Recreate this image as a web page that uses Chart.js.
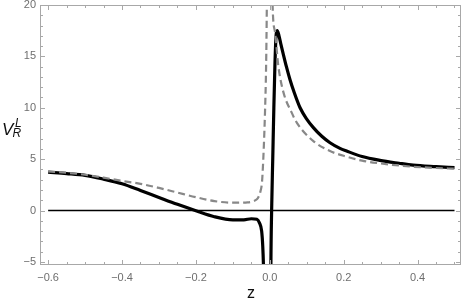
<!DOCTYPE html>
<html>
<head>
<meta charset="utf-8">
<script src="https://cdn.jsdelivr.net/npm/chart.js@4/dist/chart.umd.min.js"></script>
<style>
  html, body { margin: 0; padding: 0; background: #fff; }
  #wrap { width: 463px; height: 308px; }
</style>
</head>
<body>
<div id="wrap"><canvas id="myChart" width="463" height="308"></canvas></div>
<script>
// solid curve (black)
const solidZ = [-0.6, -0.55, -0.5, -0.45, -0.4, -0.35, -0.3, -0.25, -0.2, -0.15, -0.1, -0.07, -0.05,
  -0.035, -0.028, -0.022, -0.019, -0.017, -0.015, -0.012,
  0.0, 0.003, 0.005, 0.008, 0.011, 0.014, 0.017, 0.02, 0.025, 0.03, 0.036, 0.045, 0.055, 0.065, 0.082,
  0.1, 0.118, 0.14, 0.163, 0.19, 0.208, 0.25, 0.298, 0.35, 0.388, 0.45, 0.5];
const solidV = [3.74, 3.6, 3.42, 3.05, 2.6, 1.95, 1.27, 0.6, -0.02, -0.6, -0.9, -0.9, -0.8,
  -0.85, -1.2, -2.0, -3.5, -5.5, -9, -20,
  -30, -5.5, 0, 5, 10, 14.3, 17, 17.5, 17.0, 16.2, 15.3, 14.0, 12.7, 11.6, 10.0,
  8.9, 8.07, 7.25, 6.6, 6.05, 5.79, 5.25, 4.88, 4.6, 4.42, 4.27, 4.17];

// dashed curve (gray)
const dashedZ = [-0.6, -0.55, -0.5, -0.45, -0.4, -0.35, -0.3, -0.25, -0.2, -0.15, -0.1, -0.06, -0.045,
  -0.035, -0.031, -0.025, -0.021, -0.017, -0.013, -0.01, -0.008, -0.006, -0.004,
  0.004, 0.006, 0.0076, 0.014, 0.023, 0.037, 0.059, 0.073, 0.118, 0.163, 0.208, 0.25, 0.298,
  0.35, 0.388, 0.45, 0.5];
const dashedV = [3.8, 3.68, 3.48, 3.2, 2.88, 2.6, 2.2, 1.75, 1.3, 0.92, 0.76, 0.8, 0.9,
  1.1, 1.3, 1.9, 2.8, 5.5, 9.5, 14, 20, 30, 50,
  40, 25, 20, 17.4, 14.1, 11.5, 9.55, 8.55, 6.76, 5.79, 5.24, 4.85, 4.59,
  4.38, 4.26, 4.14, 4.07];

const zeroZ = [-0.6, 0.5];
const zeroV = [0, 0];

const xTicks = [-0.6, -0.4, -0.2, 0.0, 0.2, 0.4];
const yTicks = [-5, 0, 5, 10, 15, 20];

const toPoints = (xs, ys) => xs.map((x, i) => ({ x: x, y: ys[i] }));

const frameColor = '#a8a8a8';
const labelColor = '#6e6e6e';
const fontName = '"Liberation Sans", Arial, sans-serif';

// mathematica-ish frame with inward ticks, labels and axis titles
const framePlugin = {
  id: 'frame',
  afterDraw(chart) {
    const ctx = chart.ctx;
    const a = chart.chartArea;
    const xs = chart.scales.x;
    const ys = chart.scales.y;
    ctx.save();
    ctx.strokeStyle = frameColor;
    ctx.lineWidth = 1;
    ctx.strokeRect(a.left + 0.5, a.top + 0.5, a.right - a.left - 1, a.bottom - a.top - 1);

    // x ticks, minor every 0.05
    for (let k = -12; k <= 10; k++) {
      const v = k * 0.05;
      const px = Math.round(xs.getPixelForValue(v)) + 0.5;
      const major = k % 4 === 0;
      const len = major ? 5 : 3;
      ctx.beginPath();
      ctx.moveTo(px, a.bottom);
      ctx.lineTo(px, a.bottom - len);
      ctx.moveTo(px, a.top);
      ctx.lineTo(px, a.top + len);
      ctx.stroke();
    }
    // y ticks, minor every 1
    for (let v = -5; v <= 20; v++) {
      const py = Math.round(ys.getPixelForValue(v)) + 0.5;
      const major = v % 5 === 0;
      const len = major ? 5 : 3;
      ctx.beginPath();
      ctx.moveTo(a.left, py);
      ctx.lineTo(a.left + len, py);
      ctx.moveTo(a.right, py);
      ctx.lineTo(a.right - len, py);
      ctx.stroke();
    }

    ctx.fillStyle = labelColor;
    ctx.font = '11px ' + fontName;
    ctx.textAlign = 'center';
    ctx.textBaseline = 'alphabetic';
    xTicks.forEach(v => {
      const txt = (v < 0 ? '\u2212' : '') + Math.abs(v).toFixed(1);
      ctx.fillText(txt, xs.getPixelForValue(v), a.bottom + 16);
    });
    ctx.textAlign = 'right';
    ctx.textBaseline = 'middle';
    yTicks.forEach(v => {
      const txt = (v < 0 ? '\u2212' : '') + Math.abs(v);
      ctx.fillText(txt, a.left - 4, ys.getPixelForValue(v));
    });

    // axis titles
    ctx.fillStyle = '#111';
    ctx.textAlign = 'center';
    ctx.textBaseline = 'alphabetic';
    ctx.font = '16px ' + fontName;
    ctx.fillText('z', 251, 298);
    ctx.textAlign = 'left';
    ctx.font = 'italic 17px ' + fontName;
    ctx.fillText('V', 2, 135);
    ctx.font = 'italic 12px ' + fontName;
    ctx.fillText('L', 15, 127);
    ctx.fillText('R', 12.5, 137);
    ctx.restore();
  }
};

const ctx = document.getElementById('myChart').getContext('2d');
const myChart = new Chart(ctx, {
  type: 'scatter',
  data: {
    datasets: [
      {
        label: 'zero',
        data: toPoints(zeroZ, zeroV),
        showLine: true,
        borderColor: '#000',
        borderWidth: 1.4,
        pointRadius: 0,
      },
      {
        label: 'dashed',
        data: toPoints(dashedZ, dashedV),
        showLine: true,
        borderColor: '#888888',
        borderWidth: 2.2,
        borderDash: [7, 4],
        pointRadius: 0,
        cubicInterpolationMode: 'monotone',
      },
      {
        label: 'solid',
        data: toPoints(solidZ, solidV),
        showLine: true,
        borderColor: '#000',
        borderWidth: 3.2,
        pointRadius: 0,
        cubicInterpolationMode: 'monotone',
      },
    ],
  },
  options: {
    responsive: false,
    animation: false,
    layout: { padding: { left: 40, right: 2, top: 5, bottom: 43 } },
    plugins: {
      legend: { display: false },
      tooltip: { enabled: false },
    },
    scales: {
      x: { type: 'linear', display: false, min: -0.622, max: 0.5176 },
      y: { type: 'linear', display: false, min: -5.3, max: 20 },
    },
  },
  plugins: [framePlugin],
});
</script>
</body>
</html>
